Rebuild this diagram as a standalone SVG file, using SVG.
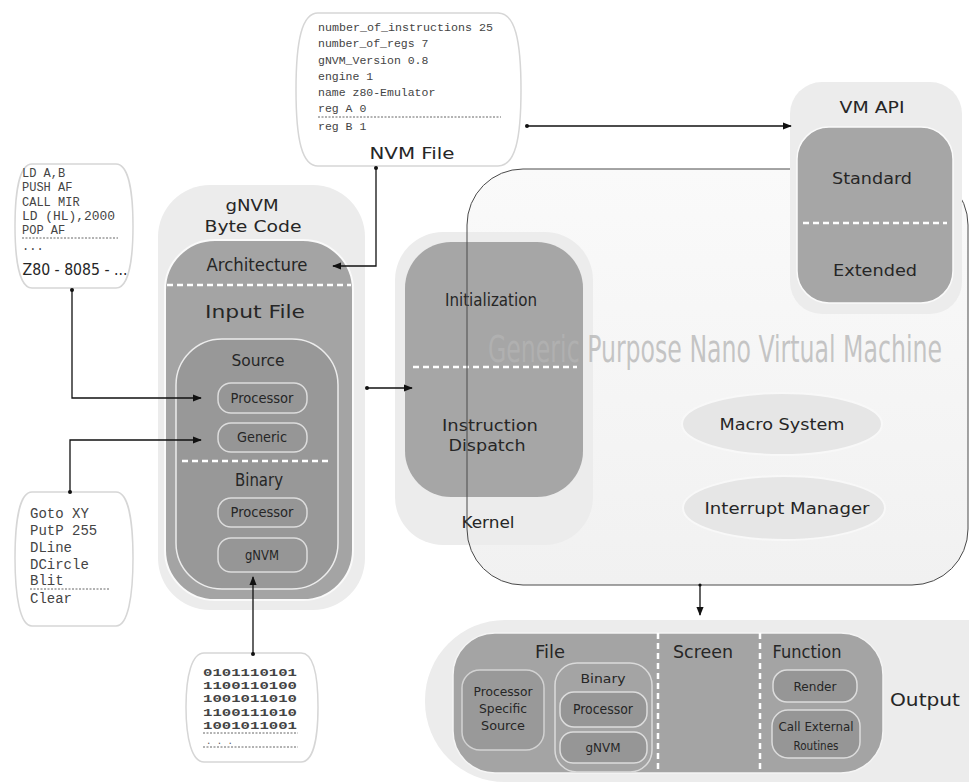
<svg xmlns="http://www.w3.org/2000/svg" width="969" height="783" viewBox="0 0 969 783">
<style>
.lbl{font-family:"DejaVu Sans","Liberation Sans",sans-serif;fill:#262626;text-anchor:middle}
.cnd{font-family:"DejaVu Sans Condensed","DejaVu Sans","Liberation Sans Narrow",sans-serif;fill:#262626;text-anchor:middle}
.mono{font-family:"Liberation Mono","DejaVu Sans Mono",monospace;fill:#444}
.codebox{fill:#fff;stroke:#d6d6d6;stroke-width:1.5}
.light{fill:#ececec}
.dark{fill:#a4a4a4;stroke:#fafafa;stroke-width:2}
.pill{fill:#969696;stroke:#dcdcdc;stroke-width:1.5}
.wdash{stroke:#fff;stroke-width:2.5;stroke-dasharray:6 4;fill:none}
.dots{stroke:#666;stroke-width:1;stroke-dasharray:2 1.5;fill:none}
.conn{stroke:#111;stroke-width:1.3;fill:none}
.ell{fill:#e6e6e6;stroke:#f8f8f8;stroke-width:2}
</style>
<defs>
<marker id="ah" viewBox="0 0 10 10" refX="9" refY="5" markerWidth="9" markerHeight="9" markerUnits="userSpaceOnUse" orient="auto">
<path d="M0,1 L10,5 L0,9 Z" fill="#111"/>
</marker>
<linearGradient id="bg" x1="0" y1="0" x2="0" y2="1">
<stop offset="0" stop-color="#fafafa"/><stop offset="1" stop-color="#f1f1f1"/>
</linearGradient>
</defs>
<rect width="969" height="783" fill="#fff"/>

<!-- Main VM shape fill -->
<g id="gpnvm">
<rect x="467" y="169" width="501" height="416" rx="56" fill="url(#bg)"/>
</g>

<!-- Kernel -->
<g id="kernel">
<rect x="395" y="232" width="198" height="313" rx="48" class="light"/>
<rect x="405" y="242" width="178" height="255" rx="46" fill="#a6a6a6"/>
<text class="cnd" x="491" y="306" font-size="18" textLength="92" lengthAdjust="spacingAndGlyphs">Initialization</text>
<line class="wdash" x1="413" y1="367" x2="577" y2="367"/>
<text class="lbl" x="490" y="431" font-size="16" textLength="96" lengthAdjust="spacingAndGlyphs">Instruction</text>
<text class="lbl" x="487" y="451" font-size="16" textLength="77" lengthAdjust="spacingAndGlyphs">Dispatch</text>
<text class="cnd" x="488" y="528" font-size="16" textLength="53" lengthAdjust="spacingAndGlyphs">Kernel</text>
</g>

<!-- watermark title + outline -->
<g id="gpnvm-outline">
<text transform="translate(488,362) scale(1,1.45)" x="0" y="0" font-family="DejaVu Sans Condensed,DejaVu Sans,sans-serif" font-size="26" fill="#b4b4b4" fill-opacity="0.75" textLength="454" lengthAdjust="spacingAndGlyphs">Generic Purpose Nano Virtual Machine</text>
<rect x="467" y="169" width="501" height="416" rx="56" fill="none" stroke="#4a4a4a" stroke-width="1"/>
</g>

<g id="macro">
<ellipse cx="782" cy="424" rx="100" ry="31" class="ell"/>
<text class="lbl" x="782" y="430" font-size="15" textLength="125" lengthAdjust="spacingAndGlyphs">Macro System</text>
</g>
<g id="interrupt">
<ellipse cx="784" cy="508" rx="101" ry="32" class="ell"/>
<text class="lbl" x="787" y="514" font-size="15" textLength="165" lengthAdjust="spacingAndGlyphs">Interrupt Manager</text>
</g>

<!-- VM API -->
<g id="vmapi">
<rect x="790" y="82" width="172" height="232" rx="32" class="light"/>
<rect x="797" y="127" width="156" height="176" rx="32" fill="#a6a6a6" stroke="#fafafa" stroke-width="1.5"/>
<text class="lbl" x="872" y="113" font-size="15" textLength="65" lengthAdjust="spacingAndGlyphs">VM API</text>
<text class="lbl" x="872" y="184" font-size="16" textLength="80" lengthAdjust="spacingAndGlyphs">Standard</text>
<line class="wdash" x1="803" y1="223" x2="947" y2="223" stroke-width="2"/>
<text class="lbl" x="875" y="276" font-size="16" textLength="84" lengthAdjust="spacingAndGlyphs">Extended</text>
</g>

<!-- gNVM Byte Code column -->
<g id="gnvm">
<rect x="158" y="185" width="207" height="425" rx="52" class="light"/>
<rect x="165" y="240" width="188" height="360" rx="50" class="dark"/>
<text class="lbl" x="252" y="211" font-size="16" textLength="53" lengthAdjust="spacingAndGlyphs">gNVM</text>
<text class="lbl" x="253" y="232" font-size="16" textLength="97" lengthAdjust="spacingAndGlyphs">Byte Code</text>
<text class="cnd" x="257" y="271" font-size="18" textLength="101" lengthAdjust="spacingAndGlyphs">Architecture</text>
<line class="wdash" x1="167" y1="285" x2="351" y2="285"/>
<text class="lbl" x="255" y="318" font-size="17" textLength="100" lengthAdjust="spacingAndGlyphs">Input File</text>
<rect x="176" y="339" width="162" height="250" rx="46" fill="#989898" stroke="#ececec" stroke-width="1.5"/>
<text class="cnd" x="258" y="366" font-size="16" textLength="53" lengthAdjust="spacingAndGlyphs">Source</text>
<rect x="218" y="383" width="89" height="30" rx="13" class="pill"/>
<text class="cnd" x="262" y="403" font-size="14" textLength="63" lengthAdjust="spacingAndGlyphs">Processor</text>
<rect x="218" y="423" width="89" height="29" rx="13" class="pill"/>
<text class="cnd" x="262" y="442" font-size="14" textLength="50" lengthAdjust="spacingAndGlyphs">Generic</text>
<line class="wdash" x1="182" y1="461" x2="332" y2="461" stroke-width="2"/>
<text class="cnd" x="259" y="486" font-size="17" textLength="48" lengthAdjust="spacingAndGlyphs">Binary</text>
<rect x="218" y="498" width="89" height="29" rx="13" class="pill"/>
<text class="cnd" x="262" y="517" font-size="14" textLength="63" lengthAdjust="spacingAndGlyphs">Processor</text>
<rect x="218" y="538" width="89" height="34" rx="13" class="pill"/>
<text class="cnd" x="262" y="560" font-size="14" textLength="34" lengthAdjust="spacingAndGlyphs">gNVM</text>
</g>

<!-- NVM File -->
<g id="nvmfile">
<path class="codebox" d="M318,13 H498 C515,13 521,40 521,90 C521,140 515,166 498,166 H318 C302,166 296,140 296,90 C296,40 302,13 318,13 Z"/>
<g class="mono" font-size="11.5">
<text x="318" y="31" textLength="175" lengthAdjust="spacingAndGlyphs">number_of_instructions 25</text>
<text x="318" y="47">number_of_regs 7</text>
<text x="318" y="64">gNVM_Version 0.8</text>
<text x="318" y="80">engine 1</text>
<text x="318" y="96">name z80-Emulator</text>
<text x="318" y="112">reg A 0</text>
<text x="318" y="130">reg B 1</text>
</g>
<line class="dots" x1="318" y1="117" x2="501" y2="117"/>
<text class="lbl" x="412" y="159" font-size="15" textLength="85" lengthAdjust="spacingAndGlyphs">NVM File</text>
</g>

<!-- Z80 code box -->
<g id="z80code">
<path class="codebox" d="M32,164 H116 C128,164 133,190 133,226 C133,262 128,288 116,288 H32 C20,288 15,262 15,226 C15,190 20,164 32,164 Z"/>
<g class="mono" font-size="12">
<text x="22" y="177">LD A,B</text>
<text x="22" y="191">PUSH AF</text>
<text x="22" y="206">CALL MIR</text>
<text x="22" y="220" textLength="93" lengthAdjust="spacingAndGlyphs">LD (HL),2000</text>
<text x="22" y="234">POP AF</text>
<text x="22" y="250">...</text>
</g>
<line class="dots" x1="22" y1="238" x2="118" y2="238"/>
<text class="cnd" x="75" y="275" font-size="15" textLength="105" lengthAdjust="spacingAndGlyphs">Z80 - 8085 - ...</text>
</g>

<!-- Generic command box -->
<g id="gencode">
<path class="codebox" d="M32,492 H116 C128,492 133,520 133,558 C133,596 128,626 116,626 H32 C20,626 15,596 15,558 C15,520 20,492 32,492 Z"/>
<g class="mono" font-size="14">
<text x="30" y="518">Goto XY</text>
<text x="30" y="535">PutP 255</text>
<text x="30" y="552">DLine</text>
<text x="30" y="569">DCircle</text>
<text x="30" y="585">Blit</text>
<text x="30" y="603">Clear</text>
</g>
<line class="dots" x1="30" y1="589" x2="110" y2="589"/>
</g>

<!-- Binary code box -->
<g id="bincode">
<path class="codebox" d="M204,653 H301 C313,653 318,675 318,707 C318,739 313,762 301,762 H204 C192,762 186,739 186,707 C186,675 192,653 204,653 Z"/>
<g class="mono" font-size="10.5" font-weight="bold" fill="#444">
<text x="203" y="676" textLength="94" lengthAdjust="spacingAndGlyphs">0101110101</text>
<text x="203" y="689" textLength="94" lengthAdjust="spacingAndGlyphs">1100110100</text>
<text x="203" y="702" textLength="94" lengthAdjust="spacingAndGlyphs">1001011010</text>
<text x="203" y="716" textLength="94" lengthAdjust="spacingAndGlyphs">1100111010</text>
<text x="203" y="729" textLength="94" lengthAdjust="spacingAndGlyphs">1001011001</text>
</g>
<text x="206" y="744" font-family="Liberation Mono,monospace" font-size="9" fill="#555">.  .  .</text>
<line class="dots" x1="203" y1="733" x2="298" y2="733"/>
<line class="dots" x1="203" y1="747" x2="298" y2="747"/>
</g>

<!-- Output -->
<g id="output">
<rect x="425" y="620" width="620" height="162" rx="80" class="light"/>
<rect x="453" y="633" width="430" height="140" rx="42" fill="#a4a4a4" stroke="#f4f4f4" stroke-width="1.5"/>
<line class="wdash" x1="658" y1="633" x2="658" y2="773" stroke-width="2"/>
<line class="wdash" x1="760" y1="633" x2="760" y2="773" stroke-width="2"/>
<text class="lbl" x="550" y="658" font-size="17" textLength="30" lengthAdjust="spacingAndGlyphs">File</text>
<text class="lbl" x="703" y="658" font-size="17" textLength="60" lengthAdjust="spacingAndGlyphs">Screen</text>
<text class="lbl" x="807" y="658" font-size="17" textLength="69" lengthAdjust="spacingAndGlyphs">Function</text>
<text class="lbl" x="925" y="706" font-size="17" textLength="70" lengthAdjust="spacingAndGlyphs">Output</text>
<rect x="462" y="670" width="82" height="80" rx="18" fill="#999" stroke="#d2d2d2" stroke-width="1.5"/>
<text class="cnd" x="503" y="696" font-size="13" textLength="59" lengthAdjust="spacingAndGlyphs">Processor</text>
<text class="cnd" x="503" y="713" font-size="13" textLength="48" lengthAdjust="spacingAndGlyphs">Specific</text>
<text class="cnd" x="503" y="730" font-size="13" textLength="44" lengthAdjust="spacingAndGlyphs">Source</text>
<rect x="555" y="663" width="97" height="109" rx="22" fill="#a4a4a4" stroke="#dadada" stroke-width="1.5"/>
<text class="lbl" x="603" y="683" font-size="11.5" textLength="45" lengthAdjust="spacingAndGlyphs">Binary</text>
<rect x="560" y="692" width="87" height="35" rx="14" class="pill"/>
<text class="cnd" x="603" y="714" font-size="14" textLength="60" lengthAdjust="spacingAndGlyphs">Processor</text>
<rect x="560" y="732" width="87" height="31" rx="13" class="pill"/>
<text class="cnd" x="603" y="752" font-size="13" textLength="35" lengthAdjust="spacingAndGlyphs">gNVM</text>
<rect x="773" y="670" width="84" height="32" rx="14" class="pill"/>
<text class="cnd" x="815" y="691" font-size="13" textLength="43" lengthAdjust="spacingAndGlyphs">Render</text>
<rect x="772" y="710" width="88" height="48" rx="16" class="pill"/>
<text class="cnd" x="816" y="731" font-size="13" textLength="75" lengthAdjust="spacingAndGlyphs">Call External</text>
<text class="cnd" x="816" y="750" font-size="13" textLength="45" lengthAdjust="spacingAndGlyphs">Routines</text>
</g>

<!-- Connectors -->
<g id="connectors">
<path class="conn" d="M527,126 H791" marker-end="url(#ah)"/>
<circle cx="527" cy="126" r="2" fill="#111"/>
<path class="conn" d="M376,168 V266 H333" marker-end="url(#ah)"/>
<circle cx="376" cy="168" r="2" fill="#111"/>
<path class="conn" d="M72,290 V398 H201" marker-end="url(#ah)"/>
<circle cx="72" cy="290" r="2" fill="#111"/>
<path class="conn" d="M70,492 V440 H201" marker-end="url(#ah)"/>
<circle cx="70" cy="492" r="2" fill="#111"/>
<path class="conn" d="M253,654 V577" marker-end="url(#ah)"/>
<circle cx="253" cy="654" r="2" fill="#111"/>
<path class="conn" d="M367,388 H412" marker-end="url(#ah)"/>
<circle cx="367" cy="388" r="2" fill="#111"/>
<path class="conn" d="M700,585 V615" marker-end="url(#ah)"/>
<circle cx="700" cy="585" r="1.6" fill="#111"/>
</g>
</svg>
